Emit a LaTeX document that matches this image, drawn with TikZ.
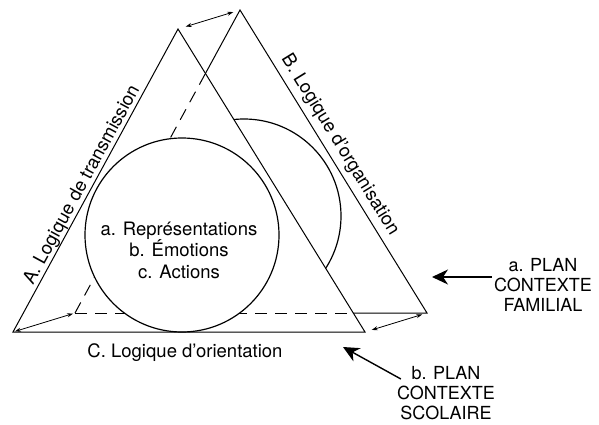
\documentclass[tikz,border=0pt]{standalone}
\usepackage{fontspec}
\setmainfont{TeX Gyre Heros}
\usepackage{tikz}
\usetikzlibrary{arrows.meta,calc}
\newcommand{\figfont}{\fontsize{18.5}{21.5}\selectfont}
\newcommand{\planfont}{\fontsize{18}{20}\selectfont}

\begin{document}
\begin{tikzpicture}[x=1pt, y=1pt, line join=miter,
  every node/.style={font=\figfont, align=center, inner sep=2pt},
  edge/.style={line width=1pt},
  hidden/.style={line width=1pt, dash pattern=on 12pt off 8pt},
  ring/.style={line width=1.2pt},
  gap/.style={line width=0.8pt, {Stealth[length=6pt,width=4pt]}-{Stealth[length=6pt,width=4pt]}},
  planarrow/.style={line width=1.4pt, -{Stealth[length=16pt,width=15pt,inset=5pt]}}]
\useasboundingbox (0,0) rectangle (599,424);
% front triangle (plan scolaire) and back triangle (plan familial)
\coordinate (L1) at (13,92);
\coordinate (R1) at (365,92);
\coordinate (T1) at (178,395);
\coordinate (L2) at (75,111);
\coordinate (R2) at (427,111);
\coordinate (T2) at (240,414);
\coordinate (O1) at (182,189);
\coordinate (O2) at (244,208);
% back plane
\draw[edge] (L2) -- (R2) -- (T2) -- cycle;
\draw[ring] (O2) circle (97);
\fill[white] (L1) -- (R1) -- (T1) -- cycle;
\begin{scope}
  \clip (L1) -- (R1) -- (T1) -- cycle;
  \draw[hidden] (L2) -- (R2);
  \draw[hidden] (L2) -- (T2);
\end{scope}
% front plane
\filldraw[ring, fill=white] (O1) circle (97);
\draw[edge] (L1) -- (R1) -- (T1) -- cycle;
% labels
\path (L1) -- (T1) node[pos=0.47, sloped, above, inner sep=0.5pt] (lblA) {A. Logique de transmission};
\path (T2) -- (R2) node[pos=0.47, sloped, above, inner sep=5pt] (lblB) {B. Logique d'organisation};
\node[anchor=base] (lblC) at (185,67) {C. Logique d'orientation};
\node (core) at (179,174) {a. Représentations\\b. Émotions\\c. Actions};
\node[font=\planfont] (planA) at (543,139) {a. PLAN\\CONTEXTE\\FAMILIAL};
\node[font=\planfont] (planB) at (446,31) {b. PLAN\\CONTEXTE\\SCOLAIRE};
% arrows
\coordinate (famtip) at (432,147);
\coordinate (scoltip) at (343,77);
\draw[planarrow] (planA.west |- famtip) -- (famtip);
\draw[planarrow] ([xshift=6pt,yshift=14pt]planB.west) -- (scoltip);
\draw[gap, shorten <=8pt, shorten >=7pt] (T1) -- (T2);
\draw[gap, shorten <=2pt, shorten >=2pt] (L1) -- (L2);
\draw[gap, shorten <=7pt, shorten >=5pt] (R1) -- (R2);
\end{tikzpicture}
\end{document}
